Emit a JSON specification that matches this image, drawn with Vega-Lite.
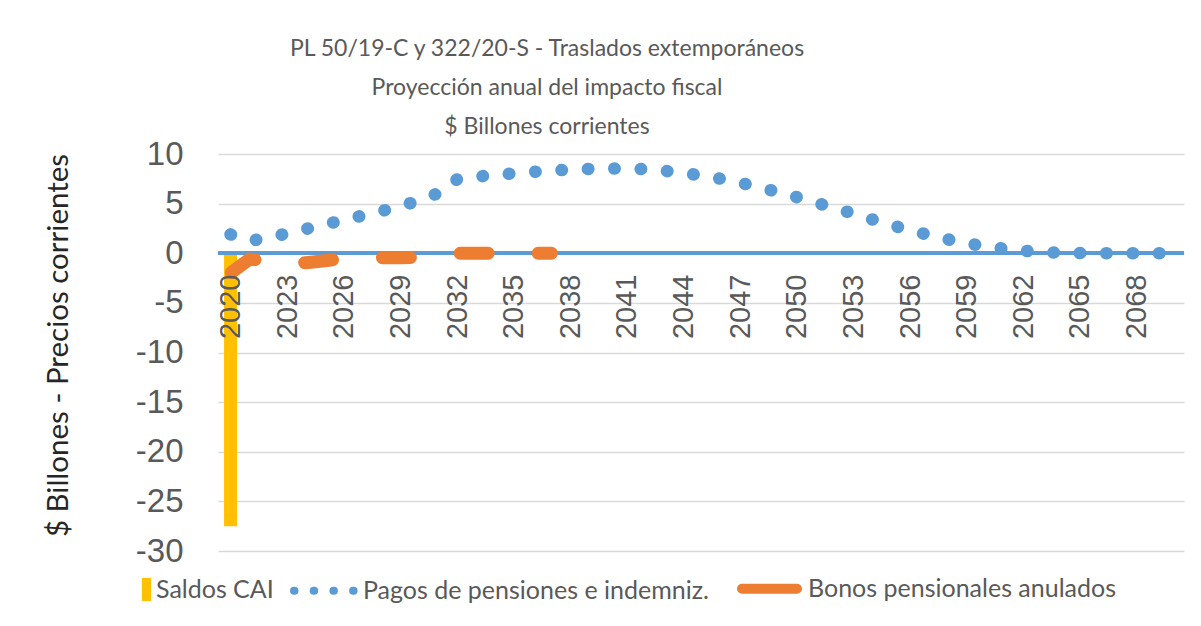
{
  "$schema": "https://vega.github.io/schema/vega-lite/v6.json",
  "width": 966,
  "height": 397,
  "autosize": "none",
  "padding": {"left": 218, "top": 154, "right": 17, "bottom": 75},
  "background": "white",
  "config": {
    "view": {"stroke": null},
    "font": "Lato"
  },
  "title": {
    "text": ["PL 50/19-C y 322/20-S - Traslados extemporáneos", "Proyección anual del impacto fiscal", "$ Billones corrientes"],
    "font": "Lato",
    "fontSize": 23,
    "fontWeight": "normal",
    "color": "#595959",
    "lineHeight": 39,
    "anchor": "middle",
    "frame": "group",
    "dx": -154,
    "baseline": "alphabetic",
    "offset": -19
  },
  "data": {
    "values": [
      {"year": 2020, "serie": "Saldos CAI", "value": -27.5},
      {"year": 2020, "serie": "Pagos de pensiones e indemniz.", "value": 1.9},
      {"year": 2021, "serie": "Pagos de pensiones e indemniz.", "value": 1.25},
      {"year": 2022, "serie": "Pagos de pensiones e indemniz.", "value": 1.55},
      {"year": 2023, "serie": "Pagos de pensiones e indemniz.", "value": 2.0},
      {"year": 2024, "serie": "Pagos de pensiones e indemniz.", "value": 2.45},
      {"year": 2025, "serie": "Pagos de pensiones e indemniz.", "value": 2.9},
      {"year": 2026, "serie": "Pagos de pensiones e indemniz.", "value": 3.35},
      {"year": 2027, "serie": "Pagos de pensiones e indemniz.", "value": 3.8},
      {"year": 2028, "serie": "Pagos de pensiones e indemniz.", "value": 4.25},
      {"year": 2029, "serie": "Pagos de pensiones e indemniz.", "value": 4.75},
      {"year": 2030, "serie": "Pagos de pensiones e indemniz.", "value": 5.3},
      {"year": 2031, "serie": "Pagos de pensiones e indemniz.", "value": 6.05},
      {"year": 2032, "serie": "Pagos de pensiones e indemniz.", "value": 7.45},
      {"year": 2033, "serie": "Pagos de pensiones e indemniz.", "value": 7.7},
      {"year": 2034, "serie": "Pagos de pensiones e indemniz.", "value": 7.9},
      {"year": 2035, "serie": "Pagos de pensiones e indemniz.", "value": 8.05},
      {"year": 2036, "serie": "Pagos de pensiones e indemniz.", "value": 8.2},
      {"year": 2037, "serie": "Pagos de pensiones e indemniz.", "value": 8.32},
      {"year": 2038, "serie": "Pagos de pensiones e indemniz.", "value": 8.43},
      {"year": 2039, "serie": "Pagos de pensiones e indemniz.", "value": 8.5},
      {"year": 2040, "serie": "Pagos de pensiones e indemniz.", "value": 8.54},
      {"year": 2041, "serie": "Pagos de pensiones e indemniz.", "value": 8.53},
      {"year": 2042, "serie": "Pagos de pensiones e indemniz.", "value": 8.47},
      {"year": 2043, "serie": "Pagos de pensiones e indemniz.", "value": 8.3},
      {"year": 2044, "serie": "Pagos de pensiones e indemniz.", "value": 8.1},
      {"year": 2045, "serie": "Pagos de pensiones e indemniz.", "value": 7.8},
      {"year": 2046, "serie": "Pagos de pensiones e indemniz.", "value": 7.5},
      {"year": 2047, "serie": "Pagos de pensiones e indemniz.", "value": 7.1},
      {"year": 2048, "serie": "Pagos de pensiones e indemniz.", "value": 6.65},
      {"year": 2049, "serie": "Pagos de pensiones e indemniz.", "value": 6.17},
      {"year": 2050, "serie": "Pagos de pensiones e indemniz.", "value": 5.65},
      {"year": 2051, "serie": "Pagos de pensiones e indemniz.", "value": 5.1},
      {"year": 2052, "serie": "Pagos de pensiones e indemniz.", "value": 4.55},
      {"year": 2053, "serie": "Pagos de pensiones e indemniz.", "value": 4.0},
      {"year": 2054, "serie": "Pagos de pensiones e indemniz.", "value": 3.4},
      {"year": 2055, "serie": "Pagos de pensiones e indemniz.", "value": 2.85},
      {"year": 2056, "serie": "Pagos de pensiones e indemniz.", "value": 2.3},
      {"year": 2057, "serie": "Pagos de pensiones e indemniz.", "value": 1.85},
      {"year": 2058, "serie": "Pagos de pensiones e indemniz.", "value": 1.4},
      {"year": 2059, "serie": "Pagos de pensiones e indemniz.", "value": 1.0},
      {"year": 2060, "serie": "Pagos de pensiones e indemniz.", "value": 0.7},
      {"year": 2061, "serie": "Pagos de pensiones e indemniz.", "value": 0.45},
      {"year": 2062, "serie": "Pagos de pensiones e indemniz.", "value": 0.25},
      {"year": 2063, "serie": "Pagos de pensiones e indemniz.", "value": 0.12},
      {"year": 2064, "serie": "Pagos de pensiones e indemniz.", "value": 0.05},
      {"year": 2065, "serie": "Pagos de pensiones e indemniz.", "value": 0.02},
      {"year": 2066, "serie": "Pagos de pensiones e indemniz.", "value": 0},
      {"year": 2067, "serie": "Pagos de pensiones e indemniz.", "value": 0},
      {"year": 2068, "serie": "Pagos de pensiones e indemniz.", "value": 0},
      {"year": 2069, "serie": "Pagos de pensiones e indemniz.", "value": 0},
      {"year": 2070, "serie": "Pagos de pensiones e indemniz.", "value": 0},
      {"year": 2020, "serie": "Bonos pensionales anulados", "value": -2.0},
      {"year": 2021, "serie": "Bonos pensionales anulados", "value": -0.6},
      {"year": 2022, "serie": "Bonos pensionales anulados", "value": -0.75},
      {"year": 2023, "serie": "Bonos pensionales anulados", "value": -1.05},
      {"year": 2024, "serie": "Bonos pensionales anulados", "value": -0.95},
      {"year": 2025, "serie": "Bonos pensionales anulados", "value": -0.75},
      {"year": 2026, "serie": "Bonos pensionales anulados", "value": -0.5},
      {"year": 2027, "serie": "Bonos pensionales anulados", "value": -0.45},
      {"year": 2028, "serie": "Bonos pensionales anulados", "value": -0.45},
      {"year": 2029, "serie": "Bonos pensionales anulados", "value": -0.45},
      {"year": 2030, "serie": "Bonos pensionales anulados", "value": -0.4},
      {"year": 2031, "serie": "Bonos pensionales anulados", "value": -0.2},
      {"year": 2032, "serie": "Bonos pensionales anulados", "value": 0},
      {"year": 2033, "serie": "Bonos pensionales anulados", "value": 0},
      {"year": 2034, "serie": "Bonos pensionales anulados", "value": 0},
      {"year": 2035, "serie": "Bonos pensionales anulados", "value": 0},
      {"year": 2036, "serie": "Bonos pensionales anulados", "value": 0},
      {"year": 2037, "serie": "Bonos pensionales anulados", "value": 0}
    ]
  },
  "encoding": {
    "x": {
      "field": "year",
      "type": "quantitative",
      "scale": {"domain": [2019.6, 2070.25], "nice": false, "zero": false},
      "axis": {
        "title": null,
        "values": [2020, 2023, 2026, 2029, 2032, 2035, 2038, 2041, 2044, 2047, 2050, 2053, 2056, 2059, 2062, 2065, 2068],
        "format": "d",
        "offset": -298,
        "zindex": 2,
        "domain": false,
        "ticks": false,
        "tickSize": 0,
        "grid": false,
        "labelAngle": -90,
        "labelAlign": "right",
        "labelBaseline": "middle",
        "labelPadding": 21,
        "labelFont": "Liberation Sans",
        "labelFontSize": 29,
        "labelColor": "#595959",
        "labelOverlap": false
      }
    },
    "y": {
      "field": "value",
      "type": "quantitative",
      "scale": {"domain": [-30, 10], "nice": false},
      "axis": {
        "title": "$ Billones - Precios corrientes",
        "values": [-30, -25, -20, -15, -10, -5, 0, 5, 10],
        "labelExpr": "'' + datum.value",
        "domain": false,
        "ticks": false,
        "tickSize": 0,
        "grid": true,
        "gridColor": "#D9D9D9",
        "gridWidth": 1.3,
        "labelFont": "Liberation Sans",
        "labelFontSize": 33,
        "labelColor": "#595959",
        "labelPadding": 35,
        "titleFont": "Lato",
        "titleFontSize": 29.5,
        "titleFontWeight": "normal",
        "titleColor": "#262626",
        "titleX": -160,
        "titleY": 191,
        "titleAngle": -90,
        "titleAlign": "center",
        "titleBaseline": "middle"
      }
    }
  },
  "layer": [
    {
      "transform": [{"filter": "datum.serie === 'Saldos CAI'"}],
      "mark": {"type": "bar", "size": 13},
      "encoding": {
        "fill": {
          "field": "serie",
          "type": "nominal",
          "scale": {"domain": ["Saldos CAI"], "range": ["#FFC000"]},
          "legend": {
            "title": null,
            "orient": "none",
            "legendX": -84,
            "legendY": 423,
            "symbolType": "M-0.4,-1H0.4V1H-0.4Z",
            "symbolSize": 529,
            "symbolStrokeWidth": 0,
            "labelFont": "Lato",
            "labelFontSize": 25,
            "labelColor": "#595959",
            "labelOffset": -3,
            "labelLimit": 600
          }
        }
      }
    },
    {
      "mark": {"type": "rule", "color": "#5B9BD5", "strokeWidth": 3},
      "encoding": {"y": {"datum": 0}, "x": null}
    },
    {
      "transform": [{"filter": "datum.serie === 'Pagos de pensiones e indemniz.'"}],
      "mark": {"type": "line", "strokeWidth": 12.5, "strokeCap": "round", "strokeDash": [0.5, 25.9]},
      "encoding": {
        "stroke": {
          "field": "serie",
          "type": "nominal",
          "sort": null,
          "scale": {"domain": ["Pagos de pensiones e indemniz.", "Bonos pensionales anulados"], "range": ["#5B9BD5", "#ED7D31"]},
          "legend": {
            "title": null,
            "orient": "none",
            "direction": "horizontal",
            "legendX": 94,
            "legendY": 422,
            "symbolType": "stroke",
            "symbolSize": 3721,
            "labelFont": "Lato",
            "labelFontSize": 25,
            "labelColor": "#595959",
            "labelOffset": 26,
            "labelLimit": 600,
            "columnPadding": 13,
            "encode": {
              "symbols": {
                "update": {
                  "strokeDash": {"signal": "datum.value === 'Pagos de pensiones e indemniz.' ? [0.5, 19.2] : [1, 0]"},
                  "strokeWidth": {"signal": "datum.value === 'Pagos de pensiones e indemniz.' ? 8 : 10"},
                  "strokeCap": {"value": "round"},
                  "size": {"signal": "datum.value === 'Pagos de pensiones e indemniz.' ? 3721 : 3025"}
                }
              }
            }
          }
        }
      }
    },
    {
      "transform": [{"filter": "datum.serie === 'Bonos pensionales anulados'"}],
      "mark": {"type": "line", "strokeWidth": 13, "strokeCap": "round", "strokeDash": [28, 50], "strokeDashOffset": -1},
      "encoding": {
        "stroke": {"field": "serie", "type": "nominal"}
      }
    }
  ]
}
